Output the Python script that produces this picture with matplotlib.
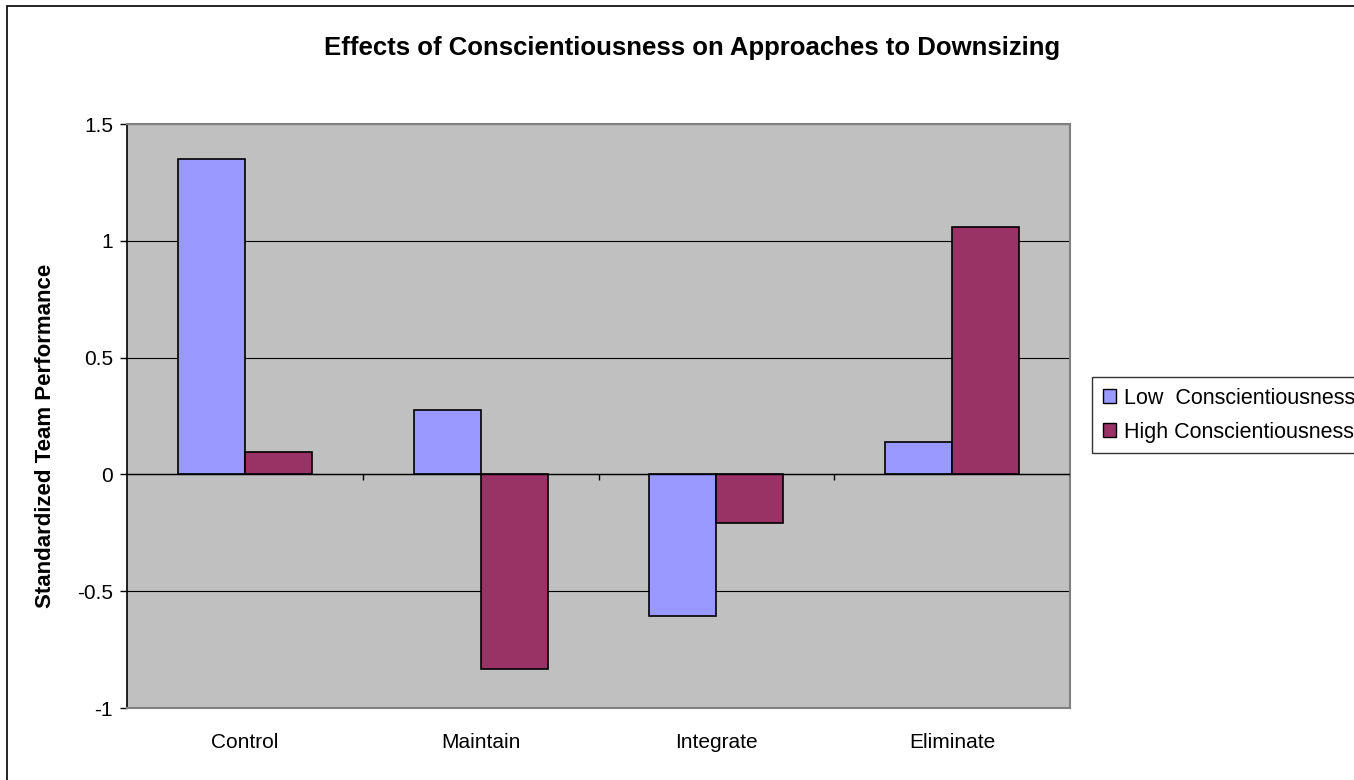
import matplotlib
matplotlib.use("Agg")
import matplotlib.pyplot as plt
from matplotlib.patches import Patch, Rectangle
import numpy as np

plt.rcParams['font.family'] = ['Liberation Sans', 'DejaVu Sans']

# data
categories = ["Control", "Maintain", "Integrate", "Eliminate"]
low_consc = [1.35, 0.275, -0.605, 0.14]
high_consc = [0.095, -0.835, -0.21, 1.06]
series_names = ["Low  Conscientiousness", "High Conscientiousness"]
y_ticks = [-1, -0.5, 0, 0.5, 1, 1.5]
y_tick_labels = ["-1", "-0.5", "0", "0.5", "1", "1.5"]

low_col = '#9999FF'
high_col = '#993366'

fig = plt.figure(figsize=(13.54, 7.8), dpi=100)
# outer chart border
fig.patches.append(Rectangle((7/1354, -0.01), 1.0, 1 - 6/780 + 0.01,
                             transform=fig.transFigure, fill=False,
                             edgecolor='black', linewidth=1.2))

ax = fig.add_axes([127/1354, 72/780, 943/1354, 584/780])
ax.set_facecolor('#C0C0C0')

x = np.arange(len(categories))
w = 0.284
ax.bar(x - w/2, low_consc, w, color=low_col, edgecolor='black', linewidth=1.2, zorder=3)
ax.bar(x + w/2, high_consc, w, color=high_col, edgecolor='black', linewidth=1.2, zorder=3)

ax.set_xlim(-0.5, 3.5)
ax.set_ylim(-1, 1.5)

# gridlines
for yv in y_ticks:
    ax.axhline(yv, color='black', linewidth=0.8, zorder=1)
ax.axhline(0, color='black', linewidth=1.0, zorder=4)
ax.vlines([0.5, 1.5, 2.5], -0.022, 0, color='black', linewidth=1.0, zorder=4)

ax.set_yticks(y_ticks)
ax.set_yticklabels(y_tick_labels, fontsize=15)
ax.tick_params(axis='y', direction='out', length=5, width=1, pad=5)
ax.set_xticks(x)
ax.set_xticklabels(categories, fontsize=15)
ax.tick_params(axis='x', length=0, pad=18)

for s in ['top', 'right', 'bottom']:
    ax.spines[s].set_color('#808080')
    ax.spines[s].set_linewidth(1.5)
ax.spines['left'].set_color('black')
ax.spines['left'].set_linewidth(1.2)

ax.set_ylabel("Standardized Team Performance", fontsize=16, fontweight='bold')
ax.yaxis.set_label_coords(-0.075, 0.466)

fig.text(0.511, 0.938, "Effects of Conscientiousness on Approaches to Downsizing",
         ha='center', va='center', fontsize=18.5, fontweight='bold')

handles = [Patch(facecolor=low_col, edgecolor='black'),
           Patch(facecolor=high_col, edgecolor='black')]
leg = fig.legend(handles, series_names, loc='upper left',
                 bbox_to_anchor=(1092/1354, 1 - 377/780), fontsize=15.5,
                 frameon=True, fancybox=False, edgecolor='black',
                 handlelength=0.6, handleheight=0.6, handletextpad=0.4,
                 borderpad=0.5, labelspacing=0.6, borderaxespad=0)
leg.get_frame().set_linewidth(1.0)

fig.savefig("out.png", dpi=100)
